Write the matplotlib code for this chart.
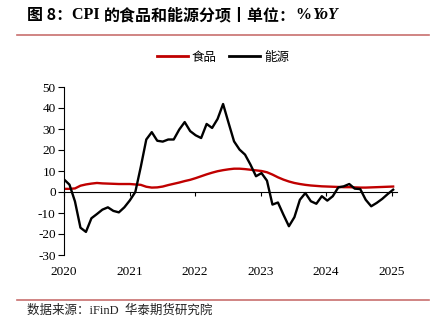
import matplotlib
matplotlib.use("Agg")
import matplotlib.pyplot as plt
import numpy as np
from matplotlib.lines import Line2D

# ---------------- data (monthly, Jan 2020 .. Jan 2025) ----------------
years = [2020, 2021, 2022, 2023, 2024, 2025]
year_labels = ["2020", "2021", "2022", "2023", "2024", "2025"]
yticks = [-30, -20, -10, 0, 10, 20, 30, 40, 50]

food = [1.5, 1.5, 1.7, 3.0, 3.6, 4.0, 4.3, 4.1, 4.0, 3.9, 3.8, 3.8,
        3.8, 3.6, 3.4, 2.5, 2.1, 2.2, 2.6, 3.3, 3.9, 4.5, 5.2, 5.8,
        6.6, 7.5, 8.4, 9.2, 9.9, 10.4, 10.8, 11.1, 11.1, 10.9, 10.6, 10.3,
        10.0, 9.4, 8.3, 7.0, 5.9, 5.0, 4.3, 3.8, 3.4, 3.1, 2.9, 2.7,
        2.6, 2.5, 2.4, 2.3, 2.3, 2.2, 2.1, 2.1, 2.2, 2.3, 2.4, 2.5,
        2.6]
energy = [6.0, 3.5, -4.5, -17.0, -19.0, -12.5, -10.5, -8.4, -7.3, -9.0, -9.7, -7.3,
          -4.0, 0.0, 12.0, 25.0, 28.5, 24.4, 24.0, 25.0, 25.0, 29.7, 33.3, 29.0,
          27.0, 25.7, 32.4, 30.5, 34.8, 41.9, 32.9, 24.1, 20.2, 17.8, 13.0, 7.5,
          9.0, 5.4, -6.0, -5.0, -10.8, -16.3, -12.0, -3.7, -0.5, -4.4, -5.6, -2.0,
          -4.1, -2.0, 2.2, 2.7, 3.8, 1.6, 1.4, -3.7, -6.8, -5.2, -3.3, -1.0,
          1.1]
months = np.arange(len(food))
x = 2020 + months * (60.3 / 60) / 12.0

RED = "#C00000"
SEP = "#C8706E"
SERIF = ["Liberation Serif", "Noto Sans CJK SC"]
CJK = ["Noto Sans CJK SC", "DejaVu Sans"]

W, H = 435, 330
fig = plt.figure(figsize=(W / 100, H / 100), dpi=100)

ax = fig.add_axes([64 / W, 1 - 255 / H, (397 - 64) / W, (255 - 87) / H])
ax.plot(x, food, color=RED, lw=1.7, solid_joinstyle="round")
ax.plot(x, energy, color="black", lw=1.7, solid_joinstyle="round")

ax.set_xlim(2020, 2020 + (397 - 64) / 65.5)
ax.set_ylim(-30, 50)
ax.set_yticks(yticks)
ax.set_yticklabels([str(v) for v in yticks], fontfamily=SERIF, fontsize=9.5)
ax.tick_params(axis="y", direction="out", length=4, width=0.8, pad=2)

ax.set_xticks(years)
ax.set_xticklabels(year_labels, fontfamily=SERIF, fontsize=9.5)
ax.tick_params(axis="x", length=0, pad=8)

for s in ["top", "right", "bottom"]:
    ax.spines[s].set_visible(False)
ax.spines["left"].set_linewidth(0.8)

# zero axis with ticks
zero_frac = (0 - (-30)) / 80
sec = ax.secondary_xaxis(zero_frac)
sec.set_xticks(years)
sec.set_xticklabels([])
sec.tick_params(direction="out", length=3, width=0.8)
sec.spines["bottom"].set_linewidth(0.8)

# separators
fig.add_artist(Line2D([17 / W, 429 / W], [1 - 35 / H, 1 - 35 / H], color=SEP, lw=1.2))
fig.add_artist(Line2D([17 / W, 429 / W], [1 - 300 / H, 1 - 300 / H], color=SEP, lw=1.2))

# title in pieces
pieces = [
    ("图 8：", dict(fontfamily=CJK, fontweight="bold")),
    ("CPI ", dict(fontfamily=SERIF, fontweight="bold")),
    ("的食品和能源分项丨单位：", dict(fontfamily=CJK, fontweight="bold")),
    ("%", dict(fontfamily=SERIF, fontweight="bold")),
    ("YoY", dict(fontfamily=SERIF, fontweight="bold", fontstyle="italic")),
]
fig.canvas.draw()
renderer = fig.canvas.get_renderer()
xpos = 27
for txt, kw in pieces:
    t = fig.text(xpos / W, 1 - 15 / H, txt, fontsize=11.5, va="center", ha="left", **kw)
    bb = t.get_window_extent(renderer)
    xpos += bb.width

# legend
handles = [Line2D([], [], color=RED, lw=2), Line2D([], [], color="black", lw=2)]
leg = fig.legend(handles, ["食品", "能源"], loc="center", bbox_to_anchor=(223 / W, 1 - 57 / H),
                 ncol=2, frameon=False, prop={"family": CJK, "size": 9},
                 handlelength=2.5, handletextpad=0.3, columnspacing=1.0)

# source
fig.text(27 / W, 1 - 311 / H, "数据来源：iFinD  华泰期货研究院", fontfamily=SERIF,
         fontsize=9, va="center", ha="left", color="#222222")

fig.savefig("out.png", dpi=100)
